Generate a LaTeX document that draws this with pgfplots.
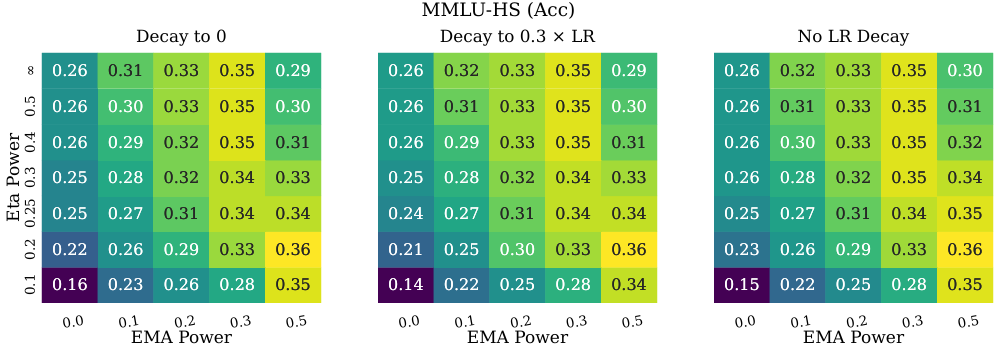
\documentclass[border=0pt]{standalone}
\usepackage{fontspec}
\setmainfont{DejaVu Serif}
\usepackage{pgfplots}
\usepackage{pgfplotstable}
\pgfplotsset{compat=1.18}
\definecolor{darktext}{HTML}{262626}

% rows from Eta Power 0.1 (y=0) up to infinity (y=6); x = EMA Power index
\pgfplotstableread{
x y c
0 0 0.16
1 0 0.23
2 0 0.26
3 0 0.28
4 0 0.35
0 1 0.22
1 1 0.26
2 1 0.29
3 1 0.33
4 1 0.36
0 2 0.25
1 2 0.27
2 2 0.31
3 2 0.34
4 2 0.34
0 3 0.25
1 3 0.28
2 3 0.32
3 3 0.34
4 3 0.33
0 4 0.26
1 4 0.29
2 4 0.32
3 4 0.35
4 4 0.31
0 5 0.26
1 5 0.30
2 5 0.33
3 5 0.35
4 5 0.30
0 6 0.26
1 6 0.31
2 6 0.33
3 6 0.35
4 6 0.29
}\decayzero

\pgfplotstableread{
x y c
0 0 0.14
1 0 0.22
2 0 0.25
3 0 0.28
4 0 0.34
0 1 0.21
1 1 0.25
2 1 0.30
3 1 0.33
4 1 0.36
0 2 0.24
1 2 0.27
2 2 0.31
3 2 0.34
4 2 0.34
0 3 0.25
1 3 0.28
2 3 0.32
3 3 0.34
4 3 0.33
0 4 0.26
1 4 0.29
2 4 0.33
3 4 0.35
4 4 0.31
0 5 0.26
1 5 0.31
2 5 0.33
3 5 0.35
4 5 0.30
0 6 0.26
1 6 0.32
2 6 0.33
3 6 0.35
4 6 0.29
}\decaylr

\pgfplotstableread{
x y c
0 0 0.15
1 0 0.22
2 0 0.25
3 0 0.28
4 0 0.35
0 1 0.23
1 1 0.26
2 1 0.29
3 1 0.33
4 1 0.36
0 2 0.25
1 2 0.27
2 2 0.31
3 2 0.34
4 2 0.35
0 3 0.26
1 3 0.28
2 3 0.32
3 3 0.35
4 3 0.34
0 4 0.26
1 4 0.30
2 4 0.33
3 4 0.35
4 4 0.32
0 5 0.26
1 5 0.31
2 5 0.33
3 5 0.35
4 5 0.31
0 6 0.26
1 6 0.32
2 6 0.33
3 6 0.35
4 6 0.30
}\nodecay

\newcommand{\celltext}[1]{%
  \pgfmathparse{#1>0.305 ? 1 : 0}%
  \ifdim\pgfmathresult pt>0.5pt\color{darktext}\else\color{white}\fi
  \pgfmathprintnumber[fixed, fixed zerofill, precision=2, assume math mode=true]{#1}}

\pgfplotsset{
  panel/.style={
    scale only axis, width=279pt, height=250pt,
    xmin=-0.5, xmax=4.5, ymin=-0.5, ymax=6.5,
    colormap name=viridis,
    axis line style={draw=none},
    major tick length=0pt,
    xtick={0,...,4}, xticklabels={0.0,0.1,0.2,0.3,0.5},
    ytick={0,...,6}, yticklabels={},
    xticklabel style={font=\fontsize{13.5}{15}\selectfont, rotate=10, anchor=base, yshift=-24pt},
    xlabel={EMA Power},
    xlabel style={font=\fontsize{17}{19}\selectfont, at={(axis description cs:0.5,0)}, anchor=base, yshift=-41pt},
    title style={font=\fontsize{16.8}{19}\selectfont, at={(axis description cs:0.5,1)}, anchor=base, yshift=4pt},
  },
  heat/.style={matrix plot*, mesh/cols=5, point meta=explicit},
  cells/.style={only marks, mark=none, point meta=explicit,
    visualization depends on={\thisrow{c} \as \cval},
    nodes near coords={\celltext{\cval}},
    every node near coord/.append style={anchor=center, font=\fontsize{16}{18}\selectfont}},
}

\begin{document}
\begin{tikzpicture}
\useasboundingbox (0,0) rectangle (997pt,352pt);

\begin{axis}[panel, at={(42pt,49pt)}, anchor=south west,
    title={Decay to 0},
    yticklabels={0.1,0.2,0.25,0.3,0.4,0.5,∞},
    yticklabel style={font=\fontsize{13.5}{15}\selectfont, rotate=90, anchor=base, yshift=7pt},
    ylabel={Eta Power},
    ylabel style={font=\fontsize{17}{19}\selectfont, at={(axis description cs:0,0.5)}, anchor=base, yshift=22pt}]
\addplot[heat] table[x=x, y=y, meta=c] {\decayzero};
\addplot[cells] table[x=x, y=y, meta=c] {\decayzero};
\end{axis}

\begin{axis}[panel, at={(378pt,49pt)}, anchor=south west,
    title={Decay to 0.3 × LR}]
\addplot[heat] table[x=x, y=y, meta=c] {\decaylr};
\addplot[cells] table[x=x, y=y, meta=c] {\decaylr};
\end{axis}

\begin{axis}[panel, at={(714pt,49pt)}, anchor=south west,
    title={No LR Decay}]
\addplot[heat] table[x=x, y=y, meta=c] {\nodecay};
\addplot[cells] table[x=x, y=y, meta=c] {\nodecay};
\end{axis}

\node[font=\fontsize{18.5}{21}\selectfont, anchor=base] at (498.5pt,335pt) {MMLU-HS (Acc)};
\end{tikzpicture}
\end{document}
